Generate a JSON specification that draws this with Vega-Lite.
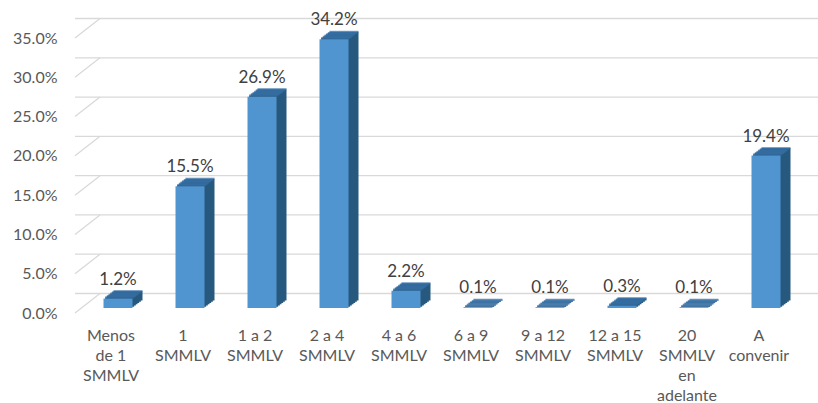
{
  "$schema": "https://vega.github.io/schema/vega-lite/v6.json",
  "width": 720,
  "height": 275,
  "autosize": {"type": "none"},
  "padding": {"left": 75, "top": 38, "right": 23, "bottom": 90},
  "config": {"view": {"stroke": null}, "font": "Lato", "axisY": {"labelOverlap": false, "grid": false, "domain": false, "ticks": false, "labelPadding": 18, "labelFontSize": 16, "labelColor": "#595959"}},
  "data": {"values": [
    {"cat": "Menos de 1 SMMLV", "v": 0.012},
    {"cat": "1 SMMLV", "v": 0.155},
    {"cat": "1 a 2 SMMLV", "v": 0.269},
    {"cat": "2 a 4 SMMLV", "v": 0.342},
    {"cat": "4 a 6 SMMLV", "v": 0.022},
    {"cat": "6 a 9 SMMLV", "v": 0.001},
    {"cat": "9 a 12 SMMLV", "v": 0.001},
    {"cat": "12 a 15 SMMLV", "v": 0.003},
    {"cat": "20 SMMLV en adelante", "v": 0.001},
    {"cat": "A convenir", "v": 0.194}
  ]},
  "layer": [
    {
      "data": {"values": [{"t": 0}, {"t": 0.05}, {"t": 0.1}, {"t": 0.15}, {"t": 0.2}, {"t": 0.25}, {"t": 0.3}, {"t": 0.35}]},
      "mark": {"type": "rule", "color": "#D9D9D9", "strokeWidth": 1.3, "xOffset": 25, "yOffset": -19.5},
      "encoding": {
        "y": {"field": "t", "type": "quantitative", "title": null, "scale": {"domain": [0, 0.35], "nice": false},
              "axis": {"format": ".1%", "values": [0, 0.05, 0.1, 0.15, 0.2, 0.25, 0.3, 0.35], "labelOverlap": false}}
      }
    },
    {
      "data": {"values": [{"t": 0}, {"t": 0.05}, {"t": 0.1}, {"t": 0.15}, {"t": 0.2}, {"t": 0.25}, {"t": 0.3}, {"t": 0.35}]},
      "mark": {"type": "rule", "color": "#D9D9D9", "strokeWidth": 1.3, "x2Offset": 25, "y2Offset": -19.5},
      "encoding": {
        "x": {"datum": "Menos de 1 SMMLV", "bandPosition": 0, "type": "nominal", "title": null},
        "x2": {"datum": "Menos de 1 SMMLV", "bandPosition": 0},
        "y": {"field": "t", "type": "quantitative", "title": null,
              "axis": {"format": ".1%", "values": [0, 0.05, 0.1, 0.15, 0.2, 0.25, 0.3, 0.35], "labelOverlap": false}},
        "y2": {"field": "t"}
      }
    },
    {
      "encoding": {
        "x": {"field": "cat", "type": "nominal", "sort": null, "title": null,
              "scale": {"paddingInner": 0, "paddingOuter": 0},
              "axis": {"domain": false, "ticks": false, "labelAngle": 0, "labelAlign": "center", "labelOverlap": false, "labelPadding": 14, "labelFontSize": 16, "labelColor": "#595959", "labelLineHeight": 20, "labelBaseline": "top",
                       "labelExpr": "datum.label == 'Menos de 1 SMMLV' ? ['Menos','de 1','SMMLV'] : datum.label == '20 SMMLV en adelante' ? ['20','SMMLV','en','adelante'] : datum.label == 'A convenir' ? ['A','convenir'] : [slice(datum.label, 0, lastindexof(datum.label, ' ')), slice(datum.label, lastindexof(datum.label, ' ') + 1)]"}},
        "y": {"field": "v", "type": "quantitative", "title": null,
              "axis": {"format": ".1%", "values": [0, 0.05, 0.1, 0.15, 0.2, 0.25, 0.3, 0.35], "labelOverlap": false}}
      },
      "layer": [
        {"mark": {"type": "bar", "width": 29, "color": "#27597F", "xOffset": 8.67, "yOffset": -6.25, "y2Offset": -6.25}},
        {"mark": {"type": "bar", "width": 29, "color": "#27597F", "xOffset": 10.33, "yOffset": -7.5, "y2Offset": -7.5}},
        {"mark": {"type": "bar", "width": 29, "color": "#27597F", "xOffset": 12, "yOffset": -8.75, "y2Offset": -8.75}},
        {"mark": {"type": "bar", "width": 29, "color": "#27597F", "xOffset": 13.67, "yOffset": -10, "y2Offset": -10}},
        {"mark": {"type": "bar", "width": 29, "color": "#27597F", "xOffset": 15.33, "yOffset": -11.25, "y2Offset": -11.25}},
        {"mark": {"type": "bar", "width": 29, "color": "#27597F", "xOffset": 17, "yOffset": -12.5, "y2Offset": -12.5}},
        {"mark": {"type": "tick", "size": 29, "thickness": 2, "color": "#3770A6", "xOffset": 8.67, "yOffset": -6.25}},
        {"mark": {"type": "tick", "size": 29, "thickness": 2, "color": "#3770A6", "xOffset": 10.33, "yOffset": -7.5}},
        {"mark": {"type": "tick", "size": 29, "thickness": 2, "color": "#3770A6", "xOffset": 12, "yOffset": -8.75}},
        {"mark": {"type": "tick", "size": 29, "thickness": 2, "color": "#3770A6", "xOffset": 13.67, "yOffset": -10}},
        {"mark": {"type": "tick", "size": 29, "thickness": 2, "color": "#3770A6", "xOffset": 15.33, "yOffset": -11.25}},
        {"mark": {"type": "tick", "size": 29, "thickness": 2, "color": "#3770A6", "xOffset": 17, "yOffset": -12.5}},
        {"mark": {"type": "bar", "width": 29, "color": "#5095D0", "xOffset": 7, "yOffset": -5, "y2Offset": -5}},
        {"mark": {"type": "text", "fontSize": 17, "color": "#404040", "xOffset": 7, "yOffset": -19, "baseline": "alphabetic"},
         "encoding": {"text": {"field": "v", "type": "quantitative", "format": ".1%"}}}
      ]
    }
  ]
}
